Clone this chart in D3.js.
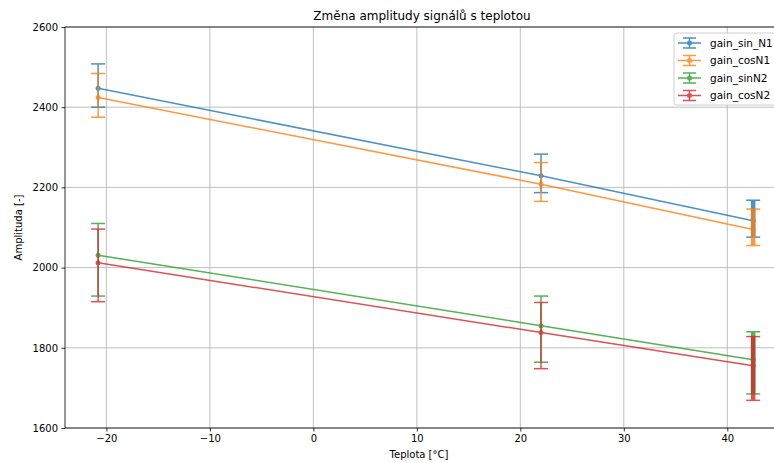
<!DOCTYPE html>
<html>
<head>
<meta charset="utf-8">
<script src="https://cdn.jsdelivr.net/npm/d3@7"></script>
<style>
  body { margin: 0; background: #fff; }
  svg { display: block; font-family: "DejaVu Sans", sans-serif; }
</style>
</head>
<body>
<div id="graf"></div>
<script>
// data
const teploty = [-20.8, 22, 42.5];
const nazvy = ["gain_sin_N1", "gain_cosN1", "gain_sinN2", "gain_cosN2"];
const barvy = ["#1f77b4", "#ff7f0e", "#2ca02c", "#d62728"];
const stredy = [
    [2447, 2229, 2117],
    [2424, 2208, 2095],
    [2031, 1855, 1770],
    [2012, 1838, 1755]
];
const spodni = [
    [2400, 2187, 2076],
    [2375, 2165, 2055],
    [1929, 1764, 1685],
    [1915, 1748, 1669]
];
const horni = [
    [2508, 2283, 2168],
    [2484, 2262, 2146],
    [2110, 1929, 1840],
    [2096, 1913, 1828]
];
const xTicky = [-20, -10, 0, 10, 20, 30, 40];
const yTicky = [1600, 1800, 2000, 2200, 2400, 2600];

const sirka = 774, vyska = 463;
const okraj = { left: 65, top: 27, right: 778, bottom: 428 };
const pruhlednost = 0.8;
const capsize = 7;

const $svg = d3.select("#graf").append("svg")
    .attr("width", sirka)
    .attr("height", vyska);

const x = d3.scaleLinear().domain([-24, 44.9]).range([okraj.left, okraj.right]);
const y = d3.scaleLinear().domain([1600, 2600]).range([okraj.bottom, okraj.top]);

// mřížka
const mriz = $svg.append("g");
mriz.selectAll(".gx").data(xTicky).join("line")
    .attr("x1", d => x(d)).attr("x2", d => x(d))
    .attr("y1", okraj.top).attr("y2", okraj.bottom)
    .attr("stroke", "#b0b0b0").attr("stroke-width", 0.8);
mriz.selectAll(".gy").data(yTicky).join("line")
    .attr("x1", okraj.left).attr("x2", okraj.right)
    .attr("y1", d => y(d)).attr("y2", d => y(d))
    .attr("stroke", "#b0b0b0").attr("stroke-width", 0.8);

// osy
const osaX = $svg.append("g")
    .attr("transform", `translate(0,${okraj.bottom})`)
    .call(d3.axisBottom(x).tickValues(xTicky).tickSize(3.5).tickPadding(3.5)
        .tickFormat(d => d < 0 ? "\u2212" + Math.abs(d) : d));
const osaY = $svg.append("g")
    .attr("transform", `translate(${okraj.left},0)`)
    .call(d3.axisLeft(y).tickValues(yTicky).tickSize(3.5).tickPadding(3.5)
        .tickFormat(d3.format("d")));
[osaX, osaY].forEach(o => {
    o.select(".domain").remove();
    o.selectAll("text").attr("font-size", 10).attr("fill", "#000")
        .attr("font-family", "DejaVu Sans");
    o.selectAll("line").attr("stroke", "#000").attr("stroke-width", 0.8);
});

// rámeček
$svg.append("rect")
    .attr("x", okraj.left).attr("y", okraj.top)
    .attr("width", okraj.right - okraj.left).attr("height", okraj.bottom - okraj.top)
    .attr("fill", "none").attr("stroke", "#000").attr("stroke-width", 0.8);

// řady s chybovými úsečkami
const car = d3.line().x((d, i) => x(teploty[i])).y(d => y(d));
nazvy.forEach((nazev, s) => {
    const g = $svg.append("g").attr("opacity", pruhlednost);
    const barva = barvy[s];
    teploty.forEach((t, i) => {
        const tloustka = i === teploty.length - 1 ? 4.5 : 1.5;
        g.append("line")
            .attr("x1", x(t)).attr("x2", x(t))
            .attr("y1", y(spodni[s][i])).attr("y2", y(horni[s][i]))
            .attr("stroke", barva).attr("stroke-width", tloustka);
        [spodni[s][i], horni[s][i]].forEach(v => {
            g.append("line")
                .attr("x1", x(t) - capsize).attr("x2", x(t) + capsize)
                .attr("y1", y(v)).attr("y2", y(v))
                .attr("stroke", barva).attr("stroke-width", 1.5);
        });
    });
    g.append("path")
        .attr("d", car(stredy[s]))
        .attr("fill", "none").attr("stroke", barva).attr("stroke-width", 1.5);
    g.selectAll("circle").data(stredy[s]).join("circle")
        .attr("cx", (d, i) => x(teploty[i])).attr("cy", d => y(d))
        .attr("r", 2.5).attr("fill", barva);
});

// popisky
$svg.append("text")
    .attr("x", (okraj.left + 773) / 2 + 3).attr("y", 20)
    .attr("text-anchor", "middle").attr("font-size", 12)
    .text("Změna amplitudy signálů s teplotou");
$svg.append("text")
    .attr("x", 419).attr("y", 458)
    .attr("text-anchor", "middle").attr("font-size", 10)
    .text("Teplota [°C]");
$svg.append("text")
    .attr("transform", `translate(22,${(okraj.top + okraj.bottom) / 2}) rotate(-90)`)
    .attr("text-anchor", "middle").attr("font-size", 10)
    .text("Amplituda [-]");

// legenda
const leg = $svg.append("g").attr("transform", "translate(674,33)");
leg.append("rect")
    .attr("width", 110).attr("height", 72).attr("rx", 2.5)
    .attr("fill", "#fff").attr("fill-opacity", 0.8)
    .attr("stroke", "#d0d0d0").attr("stroke-width", 1);
nazvy.forEach((nazev, s) => {
    const radek = leg.append("g").attr("transform", `translate(0,${10 + s * 17.5})`);
    const h = radek.append("g").attr("opacity", pruhlednost);
    h.append("line").attr("x1", 4).attr("x2", 27).attr("y1", 0).attr("y2", 0)
        .attr("stroke", barvy[s]).attr("stroke-width", 1.5);
    h.append("line").attr("x1", 15.5).attr("x2", 15.5).attr("y1", -5).attr("y2", 5)
        .attr("stroke", barvy[s]).attr("stroke-width", 1.5);
    [-5, 5].forEach(dy => h.append("line")
        .attr("x1", 9).attr("x2", 22).attr("y1", dy).attr("y2", dy)
        .attr("stroke", barvy[s]).attr("stroke-width", 1.5));
    h.append("circle").attr("cx", 15.5).attr("cy", 0).attr("r", 2.5).attr("fill", barvy[s]);
    radek.append("text").attr("x", 36).attr("y", 0).attr("dy", "0.35em")
        .attr("font-size", 10.5).text(nazev);
});
</script>
</body>
</html>
